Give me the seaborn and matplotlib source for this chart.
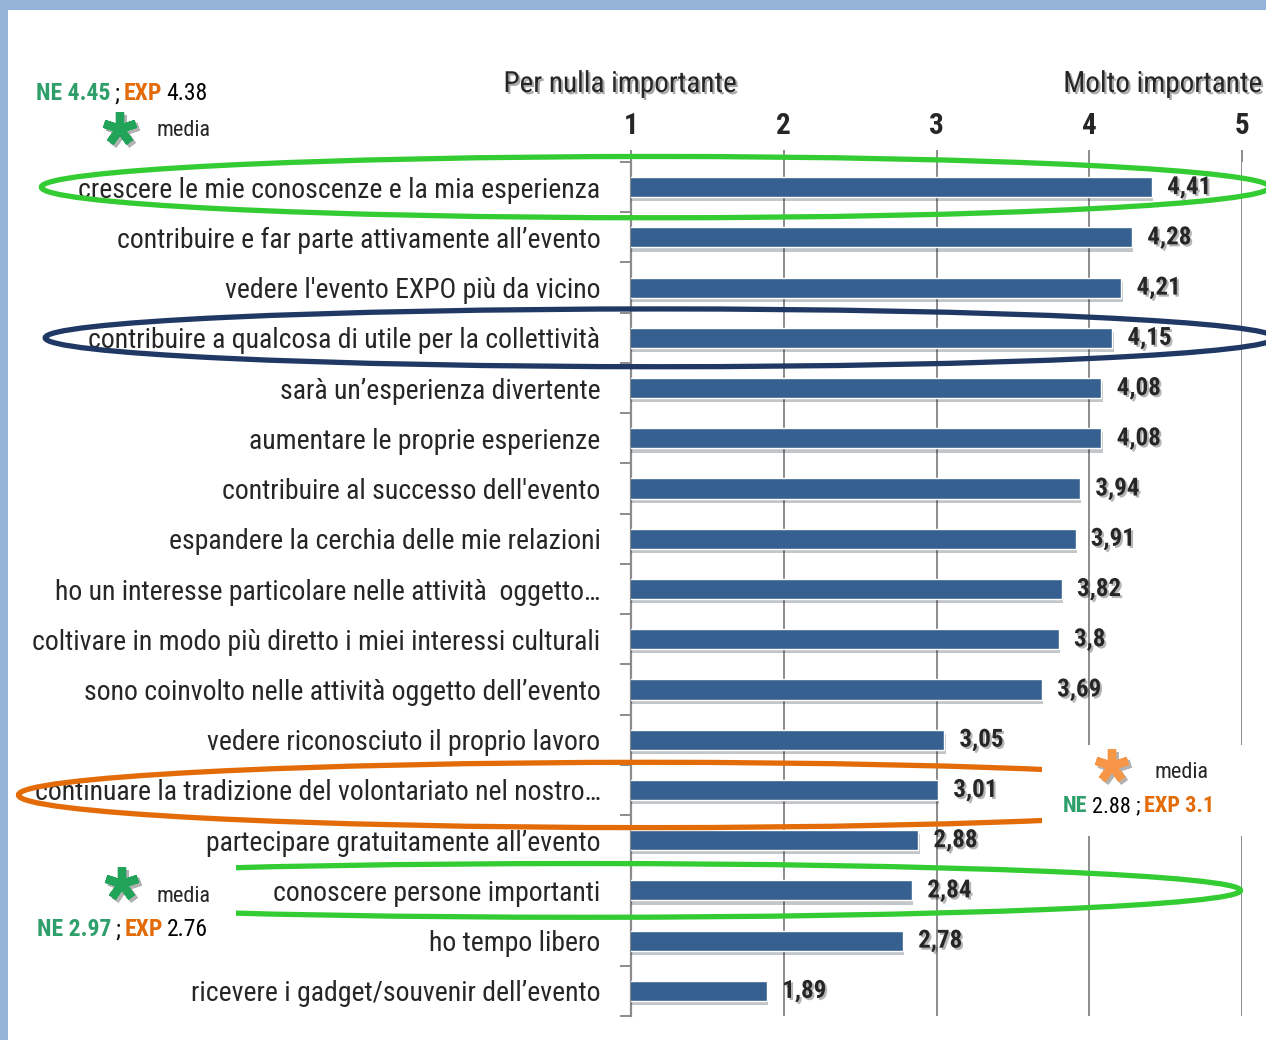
import numpy as np
import pandas as pd
import seaborn as sns
import matplotlib.pyplot as plt
import matplotlib.patheffects as pe
import matplotlib.transforms as mtransforms
from matplotlib.patches import Ellipse, Rectangle
from matplotlib.lines import Line2D
from matplotlib.text import Annotation
from matplotlib import font_manager

motivi = [
    "crescere le mie conoscenze e la mia esperienza",
    "contribuire e far parte attivamente all\u2019evento",
    "vedere l'evento EXPO più da vicino",
    "contribuire a qualcosa di utile per la collettività",
    "sarà un\u2019esperienza divertente",
    "aumentare le proprie esperienze",
    "contribuire al successo dell'evento",
    "espandere la cerchia delle mie relazioni",
    "ho un interesse particolare nelle attività  oggetto\u2026",
    "coltivare in modo più diretto i miei interessi culturali",
    "sono coinvolto nelle attività oggetto dell\u2019evento",
    "vedere riconosciuto il proprio lavoro",
    "continuare la tradizione del volontariato nel nostro\u2026",
    "partecipare gratuitamente all\u2019evento",
    "conoscere persone importanti",
    "ho tempo libero",
    "ricevere i gadget/souvenir dell\u2019evento",
]
medie = [4.41, 4.28, 4.21, 4.15, 4.08, 4.08, 3.94, 3.91, 3.82, 3.8, 3.69,
         3.05, 3.01, 2.88, 2.84, 2.78, 1.89]
scala = [1, 2, 3, 4, 5]

df = pd.DataFrame({"motivo": motivi, "media": medie})

# pick a condensed face if one is installed
entries = font_manager.fontManager.ttflist
names = {f.name for f in entries}
font, stretch = "DejaVu Sans", "normal"
for cand in ["Liberation Sans Narrow", "Roboto Condensed", "Open Sans Condensed",
             "Noto Sans Condensed", "DejaVu Sans Condensed"]:
    if cand in names:
        font = cand
        break
else:
    for f in entries:
        if f.name in ("DejaVu Sans", "Noto Sans", "Roboto", "Open Sans") and \
                str(f.stretch) in ("condensed", "semi-condensed", "extra-condensed"):
            font, stretch = f.name, "condensed"
            break

sns.set_style("white")
plt.rcParams["font.family"] = [font, "DejaVu Sans"]
plt.rcParams["font.stretch"] = stretch

W, H = 1266, 1040
fig = plt.figure(figsize=(W / 100, H / 100), dpi=100)
fig.patch.set_facecolor("white")
# pixel coords, origin top-left (decorations only)
px = mtransforms.Affine2D().scale(1 / W, -1 / H).translate(0, 1) + fig.transFigure

ax = fig.add_axes([631 / W, 1 - 1016 / H, (1242 - 631) / W, (1016 - 162) / H])
sns.barplot(data=df, x="media", y="motivo", color="#36608F", saturation=1,
            width=0.4, ax=ax, zorder=3)
for p in ax.patches:
    p.set_path_effects([pe.SimplePatchShadow(offset=(1, -3), alpha=0.25), pe.Normal()])

grey = "#8C8C8C"
ax.set_xlim(1, 5)
ax.set_ylim(len(motivi) - 0.5, -0.5)
ax.set_xticks(scala)
ax.set_xlabel("")
ax.set_ylabel("")
ax.xaxis.tick_top()
ax.xaxis.grid(True, color=grey, lw=1.4, zorder=0)
ax.yaxis.grid(False)
for s in ["top", "right", "bottom"]:
    ax.spines[s].set_visible(False)
ax.spines["left"].set_color(grey)
ax.spines["left"].set_linewidth(1.6)
ax.tick_params(axis="x", which="major", length=9, width=1.4, color=grey,
               labelsize=21, pad=7)
for t in ax.get_xticklabels():
    t.set_fontweight("bold")
ax.set_yticks(np.arange(-0.5, len(motivi), 1), minor=True)
ax.tick_params(axis="y", which="minor", length=8, width=1.4, color=grey, left=True)
ax.tick_params(axis="y", which="major", length=0, labelsize=20, pad=22)

# shrink category labels so the longest one fits in the left margin (~574 px)
fig.canvas.draw()
r = fig.canvas.get_renderer()
widest = max(t.get_window_extent(r).width for t in ax.get_yticklabels())
lab_size = min(20, 20 * 574 / widest)
ax.tick_params(axis="y", which="major", labelsize=lab_size)

for i, v in enumerate(medie):
    ax.text(v + 0.1, i, f"{v:g}".replace(".", ","), va="center", ha="left",
            fontsize=18, fontweight="bold", zorder=5,
            path_effects=[pe.withSimplePatchShadow(offset=(1.5, -1.5), alpha=0.3)])

# evidenziatori
ellissi = [
    (1.16, 0.0, 8.04, 1.22, "#33CC33"),
    (1.19, 3.0, 8.05, 1.15, "#1F3864"),
    (1.12, 12.1, 8.26, 1.30, "#E36C09"),
    (0.69, 14.0, 8.60, 1.07, "#33CC33"),
]
for cx, cy, w, h, c in ellissi:
    ax.add_patch(Ellipse((cx, cy), w, h, fill=False, ec=c, lw=3.8,
                         clip_on=False, zorder=6))

# titoli scala
shadow = [pe.withSimplePatchShadow(offset=(1.5, -1.5), alpha=0.35)]
fig.text(620, 84, "Per nulla importante", transform=px, ha="center", va="center",
         fontsize=21, path_effects=shadow)
fig.text(1262, 84, "Molto importante", transform=px, ha="right", va="center",
         fontsize=21, path_effects=shadow)

# riquadri bianchi per le note
fig.patches.append(Rectangle((1042, 745), W - 1042, 91, transform=px, fc="white",
                             ec="none", zorder=2))
fig.patches.append(Rectangle((0, 858), 236, 94, transform=px, fc="white",
                             ec="none", zorder=2))

GREEN, ORANGE = "#2E9E6B", "#E36C09"


def chain(x, y, parts, size=17):
    prev = None
    for txt, col, bold in parts:
        kw = dict(fontsize=size, color=col, fontweight="bold" if bold else "normal",
                  zorder=4)
        if prev is None:
            prev = fig.text(x, y, txt, transform=px, ha="left", va="center", **kw)
        else:
            prev = fig.add_artist(Annotation(txt, xy=(1, 0), xycoords=prev,
                                             xytext=(3, 0), textcoords="offset points",
                                             ha="left", va="bottom", **kw))


def media(xs, ys, xm, ym, col):
    star = Line2D([xs], [ys], transform=px, marker=(5, 2, 0), markersize=24,
                  markeredgewidth=6, color=col, zorder=4,
                  path_effects=[pe.SimpleLineShadow(offset=(2, -2), alpha=0.3),
                                pe.Normal()])
    fig.add_artist(star)
    fig.text(xm, ym, "media", transform=px, ha="left", va="center", fontsize=16,
             zorder=4)


chain(36, 94, [("NE 4.45", GREEN, True), (";", "black", False),
               ("EXP", ORANGE, True), ("4.38", "black", False)])
media(120, 129, 157, 130, "#21A35A")

media(1112, 766, 1154, 773, "#F79646")
chain(1063, 806, [("NE", GREEN, True), ("2.88 ;", "black", False),
                  ("EXP 3.1", ORANGE, True)], size=16)

media(122, 884, 157, 897, "#21A35A")
chain(37, 930, [("NE 2.97", GREEN, True), (";", "black", False),
                ("EXP", ORANGE, True), ("2.76", "black", False)])

# cornice azzurra
band = "#95B3D7"
fig.patches.append(Rectangle((0, 0), W, 10, transform=px, fc=band, ec="none", zorder=10))
fig.patches.append(Rectangle((0, 0), 8, H, transform=px, fc=band, ec="none", zorder=10))

fig.savefig("out.png", dpi=100, facecolor="white")
